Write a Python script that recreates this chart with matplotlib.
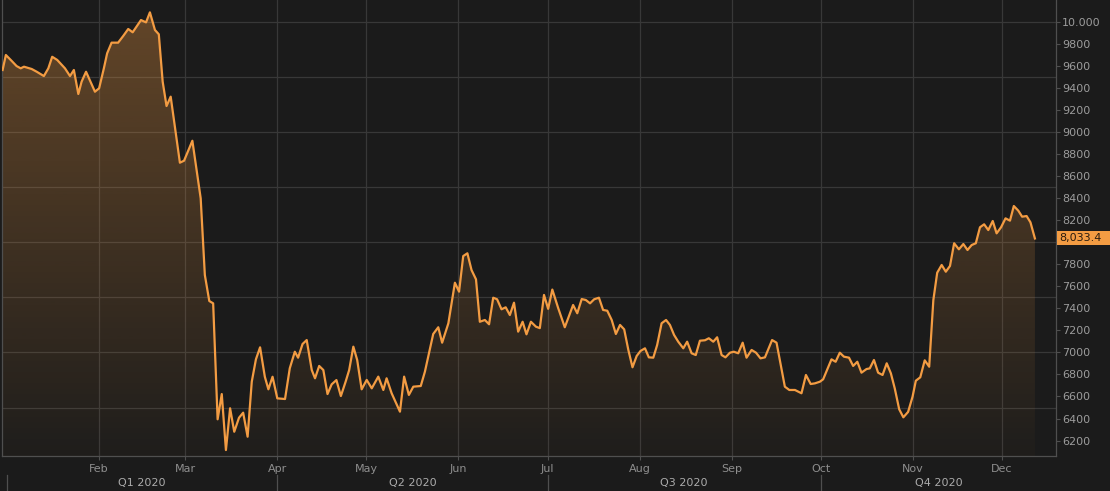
import matplotlib

matplotlib.use("Agg")

import matplotlib.dates as mdates
import matplotlib.pyplot as plt
import matplotlib.transforms as mtransforms
import numpy as np
import pandas as pd
from matplotlib.colors import to_rgb
from matplotlib.patches import Polygon, Rectangle

BG_COLOR = "#1b1b1b"
LINE_COLOR = "#f39c43"
GRID_COLOR = "#383838"
SPINE_COLOR = "#4f4f4f"
MONTH_COLOR = "#8e8e8e"
QUARTER_COLOR = "#ababab"
YLABEL_COLOR = "#9c9c9c"

# days after 2020-01-01 and closing values
days_since_jan1 = [
    -1.5, -0.4, 1.5, 3.2, 4.6, 5.7, 8.3, 10.0, 12.4, 13.9,
    15.2, 16.9, 19.5, 21.2, 22.5, 24.0, 25.1, 26.6, 28.1, 29.6,
    31.0, 32.6, 33.7, 35.2, 37.4, 39.1, 40.8, 42.3, 43.6, 45.1,
    46.8, 48.1, 49.8, 51.1, 52.4, 53.7, 55.1, 58.2, 59.6, 62.4,
    65.2, 66.6, 68.1, 69.4, 70.9, 72.3, 73.7, 75.1, 76.5, 78.1,
    79.5, 81.0, 82.4, 83.8, 85.2, 86.8, 88.0, 89.4, 91.0, 93.6,
    95.2, 96.9, 98.0, 99.5, 100.9, 102.6, 103.7, 105.1, 106.5, 107.9,
    109.3, 110.9, 112.4, 114.0, 115.2, 116.6, 117.9, 119.4, 121.1, 122.8,
    125.0, 126.7, 127.8, 129.5, 132.3, 133.7, 135.3, 136.8, 139.3, 140.7,
    143.5, 145.2, 146.5, 148.6, 150.8, 152.2, 153.6, 155.0, 156.4, 157.9,
    159.2, 160.9, 162.3, 163.7, 165.0, 166.5, 167.9, 169.3, 170.7, 172.1,
    173.6, 174.9, 176.4, 178.1, 179.4, 180.8, 182.2, 183.6, 185.6, 187.8,
    190.6, 192.0, 193.5, 194.9, 196.3, 197.7, 199.3, 200.7, 202.1, 203.6,
    205.0, 206.4, 207.8, 209.2, 210.6, 212.0, 213.3, 214.8, 216.1, 217.6,
    218.9, 220.4, 221.9, 223.2, 224.6, 226.0, 227.7, 229.0, 230.5, 231.9,
    233.3, 235.0, 236.3, 237.8, 239.1, 240.6, 241.9, 243.4, 244.7, 246.2,
    247.7, 249.0, 250.7, 252.2, 253.7, 255.2, 257.6, 259.1, 261.9, 263.4,
    265.3, 267.5, 269.0, 270.6, 272.0, 273.7, 274.8, 277.6, 279.0, 280.4,
    281.8, 283.5, 284.9, 286.3, 287.7, 289.4, 290.5, 291.9, 293.3, 294.8,
    296.2, 297.6, 298.9, 300.4, 301.8, 303.4, 304.9, 306.0, 307.5, 309.0,
    310.5, 311.9, 313.2, 314.7, 316.1, 317.5, 318.9, 320.5, 322.0, 323.4,
    324.8, 326.2, 327.6, 329.0, 330.4, 331.9, 333.2, 334.7, 336.2, 337.7,
    339.0, 340.5, 341.8, 343.3, 344.6, 346.1,
]
values = [
    9562, 9698, 9646, 9598, 9577, 9592, 9571, 9546, 9507, 9577,
    9682, 9653, 9577, 9507, 9562, 9344, 9456, 9546, 9456, 9365,
    9396, 9577, 9713, 9810, 9810, 9870, 9934, 9904, 9955, 10015,
    9994, 10085, 9925, 9886, 9456, 9235, 9320, 8721, 8739, 8920,
    8398, 7702, 7466, 7445, 6393, 6622, 6114, 6493, 6280, 6407,
    6453, 6235, 6734, 6937, 7046, 6779, 6665, 6779, 6583, 6577,
    6856, 7006, 6952, 7076, 7112, 6840, 6765, 6877, 6840, 6622,
    6710, 6749, 6604, 6734, 6840, 7052, 6931, 6665, 6750, 6674,
    6780, 6659, 6765, 6629, 6462, 6780, 6614, 6689, 6695, 6825,
    7167, 7228, 7088, 7264, 7632, 7551, 7874, 7899, 7747, 7663,
    7278, 7294, 7255, 7496, 7482, 7391, 7409, 7339, 7451, 7188,
    7278, 7164, 7278, 7233, 7220, 7521, 7395, 7570, 7400, 7228,
    7430, 7355, 7484, 7475, 7445, 7482, 7496, 7385, 7378, 7294,
    7167, 7249, 7209, 7022, 6865, 6967, 7013, 7037, 6955, 6952,
    7067, 7264, 7294, 7249, 7158, 7097, 7037, 7097, 6992, 6976,
    7106, 7110, 7128, 7097, 7137, 6976, 6955, 6997, 7006, 6992,
    7088, 6952, 7022, 6997, 6946, 6955, 7112, 7088, 6689, 6659,
    6659, 6629, 6795, 6713, 6719, 6734, 6756, 6937, 6915, 6997,
    6961, 6952, 6877, 6915, 6816, 6849, 6855, 6931, 6816, 6795,
    6901, 6810, 6674, 6484, 6411, 6460, 6598, 6743, 6774, 6928,
    6870, 7475, 7723, 7793, 7732, 7784, 7990, 7935, 7983, 7929,
    7974, 7990, 8135, 8162, 8110, 8192, 8080, 8135, 8216, 8195,
    8328, 8286, 8231, 8237, 8180, 8033.4,
]
last_label = "8,033.4"

month_labels = ["Feb", "Mar", "Apr", "May", "Jun", "Jul", "Aug", "Sep", "Oct", "Nov", "Dec"]
quarter_labels = ["Q1 2020", "Q2 2020", "Q3 2020", "Q4 2020"]
y_ticks = [6200, 6400, 6600, 6800, 7000, 7200, 7400, 7600, 7800,
           8200, 8400, 8600, 8800, 9000, 9200, 9400, 9600, 9800, 10000]
y_tick_labels = ["6200", "6400", "6600", "6800", "7000", "7200", "7400", "7600", "7800",
                 "8200", "8400", "8600", "8800", "9000", "9200", "9400", "9600", "9800", "10.000"]
grid_levels = [6500, 7000, 7500, 8000, 8500, 9000, 9500, 10000]

plt.rcParams["font.family"] = ["DejaVu Sans"]

origin = pd.Timestamp("2020-01-01")
x = mdates.date2num(origin + pd.to_timedelta(days_since_jan1, unit="D"))
x_lo = mdates.date2num(origin - pd.Timedelta(days=1.7))
x_hi = mdates.date2num(origin + pd.Timedelta(days=353.2))
y_lo, y_hi = 6060, 10197

fig = plt.figure(figsize=(11.1, 4.91), dpi=100, facecolor=BG_COLOR)
ax = fig.add_axes([2 / 1110, 35 / 491, 1054 / 1110, 456 / 491])
ax.set_facecolor(BG_COLOR)
ax.set_xlim(x_lo, x_hi)
ax.set_ylim(y_lo, y_hi)

# gradient fill under the line, clipped to the area polygon
grad = np.zeros((256, 1, 4))
grad[..., :3] = to_rgb(LINE_COLOR)
grad[..., 3] = np.linspace(0.34, 0.02, 256)[:, None]
img = ax.imshow(grad, aspect="auto", extent=[x_lo, x_hi, y_lo, y_hi],
                origin="upper", zorder=1, interpolation="bilinear")
verts = [(x[0], y_lo)] + list(zip(x, values)) + [(x[-1], y_lo)]
area = Polygon(verts, closed=True, facecolor="none", edgecolor="none")
ax.add_patch(area)
img.set_clip_path(area)

ax.plot(x, values, color=LINE_COLOR, linewidth=1.6, zorder=3)

for level in grid_levels:
    ax.axhline(level, color=GRID_COLOR, linewidth=0.9, zorder=0.5)

month_starts = pd.date_range("2020-02-01", "2020-12-01", freq="MS")
ax.set_xticks(mdates.date2num(month_starts))
ax.set_xticklabels(month_labels)
ax.grid(axis="x", color=GRID_COLOR, linewidth=0.9)
ax.set_axisbelow(True)
ax.tick_params(axis="x", colors=SPINE_COLOR, labelcolor=MONTH_COLOR,
               labelsize=8, length=3, width=0.8, pad=3)

ax.yaxis.tick_right()
ax.set_yticks(y_ticks)
ax.set_yticklabels(y_tick_labels)
ax.tick_params(axis="y", colors=SPINE_COLOR, labelcolor=YLABEL_COLOR,
               labelsize=8, length=3, width=0.8, pad=1.5)

for side in ["left", "right", "bottom"]:
    ax.spines[side].set_color(SPINE_COLOR)
    ax.spines[side].set_linewidth(0.9)
ax.spines["top"].set_visible(False)

# quarter row under the month labels
blend = mtransforms.blended_transform_factory(ax.transData, ax.transAxes)
q_edges = mdates.date2num(pd.date_range("2020-01-01", "2021-01-01", freq="QS"))
for i, label in enumerate(quarter_labels):
    a, b = max(q_edges[i], x_lo), min(q_edges[i + 1], x_hi)
    ax.text((a + b) / 2, -0.059, label, transform=blend, ha="center", va="center",
            fontsize=8, color=QUARTER_COLOR, clip_on=False)
    ax.plot([q_edges[i], q_edges[i]], [-0.042, -0.08], transform=blend,
            color=SPINE_COLOR, linewidth=0.9, clip_on=False)

# last value tag on the right axis
last = values[-1]
half_h = (y_hi - y_lo) / 456 * 7
tag_blend = mtransforms.blended_transform_factory(ax.transAxes, ax.transData)
ax.add_patch(Rectangle((1.001, last - half_h), 0.06, 2 * half_h, transform=tag_blend,
                       facecolor=LINE_COLOR, edgecolor="none", clip_on=False, zorder=10))
ax.text(1.003, last, last_label, transform=tag_blend, ha="left", va="center",
        fontsize=8, color="#2a1c0e", clip_on=False, zorder=11)

fig.savefig("out.png", dpi=100, facecolor=BG_COLOR)
